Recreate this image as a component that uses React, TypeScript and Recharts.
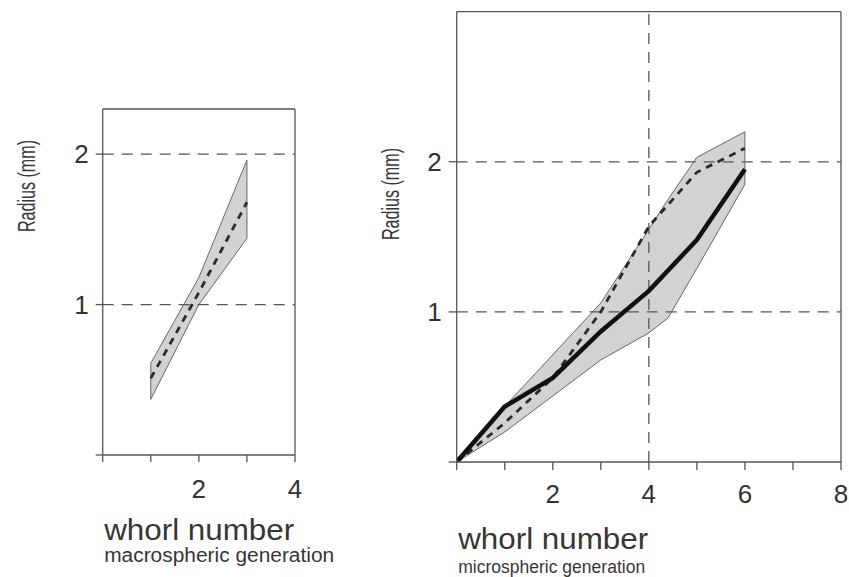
import { ComposedChart, Area, Line, XAxis, YAxis, ReferenceLine } from "recharts";

// macrospheric generation (left panel)
const macroWhorl = [1, 2, 3];
const macroHigh = [0.61, 1.18, 1.96];
const macroLow = [0.37, 1.0, 1.44];
const macroMean = [0.51, 1.08, 1.68];

// microspheric generation (right panel)
const microWhorl = [0, 1, 2, 3, 4, 5, 6];
const microSolid = [0, 0.37, 0.56, 0.87, 1.14, 1.48, 1.95];
const microDashed = [0, 0.26, 0.56, 1.0, 1.57, 1.93, 2.09];
const microEnvWhorl = [0, 1, 3, 4, 4.4, 5, 6];
const microHigh = [0, 0.37, 1.06, 1.55, 1.75, 2.03, 2.2];
const microLow = [0, 0.2, 0.68, 0.86, 0.96, 1.29, 1.85];

const macroXTicks = [0, 1, 2, 3, 4];
const microXTicks = [0, 1, 2, 3, 4, 5, 6, 7, 8];
const radiusTicks = [0, 1, 2];
const gridRadius = [1, 2];
const macroDomainX = [0, 4];
const macroDomainY = [0, 2.3];
const microDomainX = [0, 8];
const microDomainY = [0, 3];

const FONT = '"Liberation Sans", Arial, Helvetica, sans-serif';
const AXIS = "#555";
const TEXT = "#363636";

const macroBand = macroWhorl.map((x, i) => ({ x, band: [macroLow[i], macroHigh[i]] }));
const macroLine = macroWhorl.map((x, i) => ({ x, r: macroMean[i] }));
const microBand = microEnvWhorl.map((x, i) => ({ x, band: [microLow[i], microHigh[i]] }));
const microSolidData = microWhorl.map((x, i) => ({ x, r: microSolid[i] }));
const microDashedData = microWhorl.map((x, i) => ({ x, r: microDashed[i] }));

const evenLabel = (v: number) => (v > 0 && v % 2 === 0 ? String(v) : "");
const yLabel = (v: number) => (v > 0 ? String(v) : "");

// titles drawn relative to the x axis box
const titles =
  (sub: string, base: number, subBase: number, subSize: number, subLen: number, radX: number, radY: number) =>
  (props: any) => {
    const vb = props.viewBox || {};
    const x = vb.x + 1.5;
    const cx = vb.x - radX;
    return (
      <g fontFamily={FONT} fill={TEXT}>
        <text x={x} y={vb.y + base} fontSize={29} textLength={190} lengthAdjust="spacingAndGlyphs">
          whorl number
        </text>
        <text x={x} y={vb.y + subBase} fontSize={subSize} textLength={subLen} lengthAdjust="spacingAndGlyphs">
          {sub}
        </text>
        <text
          x={cx}
          y={radY}
          transform={`rotate(-90 ${cx} ${radY})`}
          textAnchor="middle"
          dominantBaseline="central"
          fontSize={23}
          textLength={92}
          lengthAdjust="spacingAndGlyphs"
        >
          Radius (mm)
        </text>
      </g>
    );
  };

const tickStyle = { fontSize: 26, fill: "#333", fontFamily: FONT };
const axisLine = { stroke: AXIS, strokeWidth: 1.3 };
const gridDash = "11 8";

function MacroChart() {
  const lastL = macroWhorl.length - 1;
  return (
    <ComposedChart
      width={350}
      height={577}
      margin={{ top: 109, right: 55, bottom: 62, left: 0 }}
      style={{ position: "absolute", left: 0, top: 0 }}
    >
      <XAxis
        dataKey="x"
        type="number"
        domain={macroDomainX}
        ticks={macroXTicks}
        interval={0}
        height={60}
        tickFormatter={evenLabel}
        tick={tickStyle}
        tickSize={7}
        tickMargin={18}
        axisLine={axisLine}
        tickLine={axisLine}
        allowDataOverflow
        label={{ content: titles("macrospheric generation", 85, 107, 20, 230, 76, 186) }}
      />
      <YAxis
        type="number"
        domain={macroDomainY}
        ticks={radiusTicks}
        interval={0}
        width={102.7}
        tickFormatter={yLabel}
        tick={tickStyle}
        tickSize={7}
        tickMargin={7}
        axisLine={axisLine}
        tickLine={axisLine}
        allowDataOverflow
      />
      <ReferenceLine y={macroDomainY[1]} stroke={AXIS} strokeWidth={1.3} />
      <ReferenceLine x={macroDomainX[1]} stroke={AXIS} strokeWidth={1.3} />
      <Area
        data={macroBand}
        dataKey="band"
        type="linear"
        fill="#d2d2d2"
        fillOpacity={1}
        stroke="#666"
        strokeWidth={1}
        isAnimationActive={false}
        dot={false}
        activeDot={false}
      />
      {gridRadius.map((r) => (
        <ReferenceLine key={r} y={r} stroke={AXIS} strokeWidth={1.3} strokeDasharray={gridDash} />
      ))}
      <ReferenceLine
        segment={[
          { x: macroWhorl[0], y: macroLow[0] },
          { x: macroWhorl[0], y: macroHigh[0] },
        ]}
        stroke="#666"
        strokeWidth={1}
      />
      <ReferenceLine
        segment={[
          { x: macroWhorl[lastL], y: macroLow[lastL] },
          { x: macroWhorl[lastL], y: macroHigh[lastL] },
        ]}
        stroke="#666"
        strokeWidth={1}
      />
      <Line
        data={macroLine}
        dataKey="r"
        type="linear"
        stroke="#2a2a2a"
        strokeWidth={2.8}
        strokeDasharray="7 6"
        dot={false}
        activeDot={false}
        isAnimationActive={false}
      />
    </ComposedChart>
  );
}

function MicroChart() {
  const last = microEnvWhorl.length - 1;
  return (
    <ComposedChart
      width={509}
      height={577}
      margin={{ top: 11.7, right: 8, bottom: 55, left: 0 }}
      style={{ position: "absolute", left: 340, top: 0 }}
    >
      <XAxis
        dataKey="x"
        type="number"
        domain={microDomainX}
        ticks={microXTicks}
        interval={0}
        height={60}
        tickFormatter={evenLabel}
        tick={tickStyle}
        tickSize={8}
        tickMargin={15}
        axisLine={axisLine}
        tickLine={axisLine}
        allowDataOverflow
        label={{ content: titles("microspheric generation", 87, 111, 18, 187, 66, 194) }}
      />
      <YAxis
        type="number"
        domain={microDomainY}
        ticks={radiusTicks}
        interval={0}
        width={116.7}
        tickFormatter={yLabel}
        tick={tickStyle}
        tickSize={8}
        tickMargin={7}
        axisLine={axisLine}
        tickLine={axisLine}
        allowDataOverflow
      />
      <ReferenceLine y={microDomainY[1]} stroke={AXIS} strokeWidth={1.3} />
      <ReferenceLine x={microDomainX[1]} stroke={AXIS} strokeWidth={1.3} />
      <ReferenceLine x={4} stroke={AXIS} strokeWidth={1.3} strokeDasharray={gridDash} />
      <Area
        data={microBand}
        dataKey="band"
        type="linear"
        fill="#d2d2d2"
        fillOpacity={1}
        stroke="#666"
        strokeWidth={1}
        isAnimationActive={false}
        dot={false}
        activeDot={false}
      />
      {gridRadius.map((r) => (
        <ReferenceLine key={r} y={r} stroke={AXIS} strokeWidth={1.3} strokeDasharray={gridDash} />
      ))}
      <ReferenceLine
        segment={[
          { x: microEnvWhorl[last], y: microLow[last] },
          { x: microEnvWhorl[last], y: microHigh[last] },
        ]}
        stroke="#666"
        strokeWidth={1}
      />
      <Line
        data={microDashedData}
        dataKey="r"
        type="linear"
        stroke="#2a2a2a"
        strokeWidth={2.8}
        strokeDasharray="7 6"
        dot={false}
        activeDot={false}
        isAnimationActive={false}
      />
      <Line
        data={microSolidData}
        dataKey="r"
        type="linear"
        stroke="#111"
        strokeWidth={4.5}
        dot={false}
        activeDot={false}
        isAnimationActive={false}
      />
    </ComposedChart>
  );
}

export default function App() {
  return (
    <div style={{ position: "absolute", left: 0, top: 0, width: 849, height: 577, background: "#fff" }}>
      <MacroChart />
      <MicroChart />
    </div>
  );
}
